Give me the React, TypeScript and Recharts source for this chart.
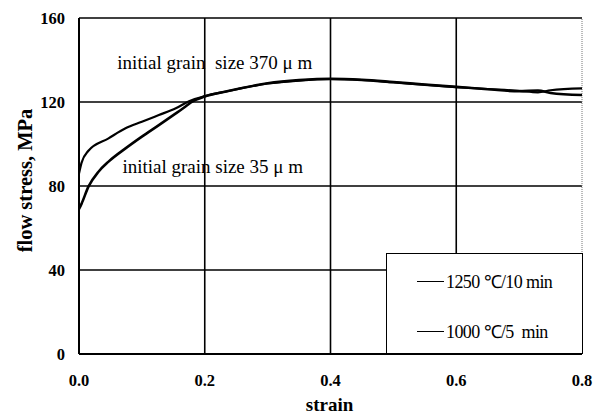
import React from 'react';
import {
  LineChart, Line, XAxis, YAxis, CartesianGrid, ReferenceLine, ReferenceDot, Legend,
} from 'recharts';

// strain values and flow stress (MPa)
const coarseStrain = [0, 0.004, 0.015, 0.047, 0.074, 0.1, 0.127, 0.154, 0.175, 0.2, 0.234, 0.3, 0.35, 0.4, 0.45, 0.5, 0.55, 0.6, 0.65, 0.7, 0.73, 0.75, 0.8];
const coarseStress = [86, 91, 96.8, 102.7, 107.5, 110.6, 113.8, 117, 120.4, 122.8, 125, 128.8, 130.2, 130.9, 130.4, 129.3, 128.2, 127.1, 126.2, 125.3, 124.6, 125.6, 126.5];

const fineStrain = [0, 0.004, 0.015, 0.031, 0.047, 0.074, 0.1, 0.127, 0.154, 0.17, 0.18, 0.2, 0.234, 0.3, 0.35, 0.4, 0.45, 0.5, 0.55, 0.6, 0.65, 0.7, 0.73, 0.75, 0.8];
const fineStress = [69, 71.5, 79.7, 86.8, 91.6, 97.9, 103.5, 109, 114.6, 118, 120.2, 122.6, 125, 128.9, 130.4, 131.1, 130.6, 129.5, 128.3, 127.2, 126.1, 125.1, 125.5, 124.3, 123.3];

const xTicks = [0, 0.2, 0.4, 0.6, 0.8];
const yTicks = [0, 40, 80, 120, 160];
const seriesNames = ['1250 \u2103/10 min', '1000 \u2103/5  min'];
const annotations = ['initial grain  size 370 \u03bc m', 'initial grain size 35 \u03bc m'];
const annotationX = [0.061, 0.069];
const annotationY = [135.5, 86];

const coarse = coarseStrain.map((x, i) => ({ x, y: coarseStress[i] }));
const fine = fineStrain.map((x, i) => ({ x, y: fineStress[i] }));

const SERIF = 'Liberation Serif, serif';

const LegendBox = () => (
  <div style={{
    width: 197, height: 101, boxSizing: 'border-box', background: '#fff',
    border: '1.5px solid #000', fontFamily: SERIF, fontSize: 18, color: '#000',
    position: 'relative',
  }}>
    {seriesNames.map((n, i) => (
      <div key={n} style={{ position: 'absolute', left: 30, top: 15 + i * 50, display: 'flex', alignItems: 'center', whiteSpace: 'pre' }}>
        <span style={{ display: 'inline-block', width: 27, borderTop: '1.5px solid #000', marginRight: 2 }} />
        <span style={{ letterSpacing: -0.6 }}>{n}</span>
      </div>
    ))}
  </div>
);

const XTick = ({ x, y, payload }: any) => (
  <text x={x} y={y} dy={12} textAnchor="middle" fontFamily={SERIF} fontSize={16.5} fontWeight="bold" fill="#000">
    {Number(payload.value).toFixed(1)}
  </text>
);
const YTick = ({ x, y, payload }: any) => (
  <text x={x} y={y} dy={6} textAnchor="end" fontFamily={SERIF} fontSize={16.5} fontWeight="bold" fill="#000">
    {payload.value}
  </text>
);

const annotLabel = (text: string) => ({ viewBox }: any) => (
  <text x={viewBox.x} y={viewBox.y} fontFamily={SERIF} fontSize={19} fill="#000"
    letterSpacing={0} style={{ whiteSpace: 'pre' }}>{text}</text>
);

export default function App() {
  return (
    <div style={{ position: 'absolute', left: 0, top: 0, width: 600, height: 417, background: '#fff' }}>
      <LineChart width={600} height={417} margin={{ top: 18, right: 18, left: 0, bottom: 0 }}>
        <CartesianGrid vertical={false} stroke="#000" strokeWidth={1.6} />
        <XAxis
          dataKey="x" type="number" domain={[0, 0.8]} ticks={xTicks} allowDuplicatedCategory={false}
          height={63} tickSize={0} tickMargin={20}
          axisLine={{ stroke: '#000', strokeWidth: 2 }}
          tick={<XTick />}
          label={({ viewBox }: any) => (
            <text x={viewBox.x + viewBox.width / 2 - 1} y={viewBox.y + 57} textAnchor="middle"
              fontFamily={SERIF} fontSize={19} fontWeight="bold" fill="#000">strain</text>
          )}
        />
        <YAxis
          type="number" domain={[0, 160]} ticks={yTicks} width={79} tickSize={0} tickMargin={14}
          axisLine={{ stroke: '#000', strokeWidth: 2 }}
          tick={<YTick />}
          label={({ viewBox }: any) => {
            const cx = viewBox.x + 32;
            const cy = viewBox.y + viewBox.height / 2 - 5.5;
            return (
              <text x={cx} y={cy} textAnchor="middle" transform={`rotate(-90 ${cx} ${cy})`}
                fontFamily={SERIF} fontSize={20.5} fontWeight="bold" fill="#000">flow stress, MPa</text>
            );
          }}
        />
        <ReferenceLine x={0.2} stroke="#000" strokeWidth={1.6} />
        <ReferenceLine x={0.4} stroke="#000" strokeWidth={1.6} />
        <ReferenceLine x={0.6} stroke="#000" strokeWidth={1.6} />
        <ReferenceLine x={0.8} stroke="#777" strokeWidth={1} strokeDasharray="1 1" />
        <Line data={coarse} dataKey="y" name={seriesNames[0]} type="monotone" stroke="#000" strokeWidth={2.2} dot={false} isAnimationActive={false} />
        <Line data={fine} dataKey="y" name={seriesNames[1]} type="monotone" stroke="#000" strokeWidth={2.6} dot={false} isAnimationActive={false} />
        {annotations.map((t, i) => (
          <ReferenceDot key={t} x={annotationX[i]} y={annotationY[i]} r={0} fill="none" stroke="none"
            ifOverflow="visible" label={annotLabel(t)} />
        ))}
        <Legend layout="vertical" align="center" verticalAlign="middle" content={() => <LegendBox />}
          wrapperStyle={{ left: 386, top: 253, width: 197, height: 101 }} />
      </LineChart>
    </div>
  );
}
